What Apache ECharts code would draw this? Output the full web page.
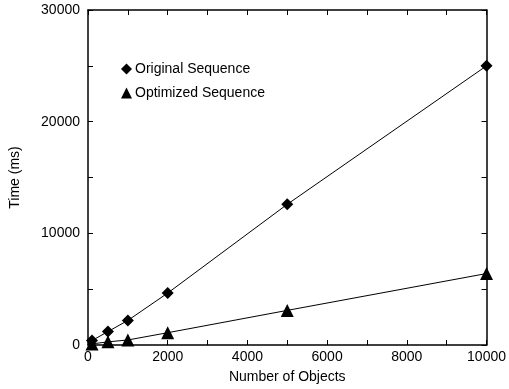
<!DOCTYPE html>
<html>
<head>
<meta charset="utf-8">
<script src="https://cdn.jsdelivr.net/npm/echarts@6/dist/echarts.min.js"></script>
<style>
    html, body { margin: 0; padding: 0; background: #fff; }
    #chartDiv { width: 509px; height: 389px; }
</style>
</head>
<body>
<div id="chartDiv"></div>
<script>
let objectCounts = [100, 500, 1000, 2000, 5000, 10000];
let originalTimes = [400, 1200, 2200, 4650, 12600, 25000];
let optimizedTimes = [100, 280, 450, 1100, 3100, 6400];
let seriesNames = ["Original Sequence", "Optimized Sequence"];

let chart = echarts.init(document.getElementById("chartDiv"));

function pairs(xs, ys) {
    return xs.map((x, i) => [x, ys[i]]);
}

let labelFont = {
    color: "#000",
    fontFamily: "Liberation Sans",
    fontSize: 14,
};

let frameLine = { show: true, onZero: false, lineStyle: { color: "#000", width: 1.5 } };
let innerTick = { show: true, inside: true, length: 5, lineStyle: { color: "#000" } };

let options = {
    animation: false,
    grid: {
        left: 88,
        right: 20,
        top: 10,
        bottom: 43,
    },
    legend: {
        orient: "vertical",
        left: 116,
        top: 57,
        itemWidth: 11,
        itemHeight: 11,
        itemGap: 10,
        textStyle: { ...labelFont, padding: [0, 0, 0, -2] },
        data: [
            { name: seriesNames[0], icon: "diamond" },
            { name: seriesNames[1], icon: "triangle" },
        ],
    },
    xAxis: [
        {
            type: "value",
            min: 0,
            max: 10000,
            interval: 1000,
            name: "Number of Objects",
            nameLocation: "middle",
            nameGap: 25,
            nameTextStyle: labelFont,
            axisLine: frameLine,
            axisTick: innerTick,
            axisLabel: {
                ...labelFont,
                margin: 5,
                formatter: (v) => (v % 2000 === 0 ? String(v) : ""),
            },
            splitLine: { show: false },
        },
        {
            type: "value",
            position: "top",
            min: 0,
            max: 10000,
            interval: 1000,
            axisLine: frameLine,
            axisTick: innerTick,
            axisLabel: { show: false },
            splitLine: { show: false },
        },
    ],
    yAxis: [
        {
            type: "value",
            min: 0,
            max: 30000,
            interval: 5000,
            name: "Time (ms)",
            nameLocation: "middle",
            nameGap: 66,
            nameTextStyle: labelFont,
            axisLine: frameLine,
            axisTick: innerTick,
            axisLabel: {
                ...labelFont,
                margin: 8,
                formatter: (v) => (v % 10000 === 0 ? String(v) : ""),
            },
            splitLine: { show: false },
        },
        {
            type: "value",
            position: "right",
            min: 0,
            max: 30000,
            interval: 5000,
            axisLine: frameLine,
            axisTick: innerTick,
            axisLabel: { show: false },
            splitLine: { show: false },
        },
    ],
    series: [
        {
            name: seriesNames[0],
            type: "line",
            data: pairs(objectCounts, originalTimes),
            symbol: "diamond",
            symbolSize: 12,
            itemStyle: { color: "#000" },
            lineStyle: { color: "#000", width: 1 },
        },
        {
            name: seriesNames[1],
            type: "line",
            data: pairs(objectCounts, optimizedTimes),
            symbol: "triangle",
            symbolSize: 13,
            itemStyle: { color: "#000" },
            lineStyle: { color: "#000", width: 1 },
        },
    ],
};

chart.setOption(options);
</script>
</body>
</html>
